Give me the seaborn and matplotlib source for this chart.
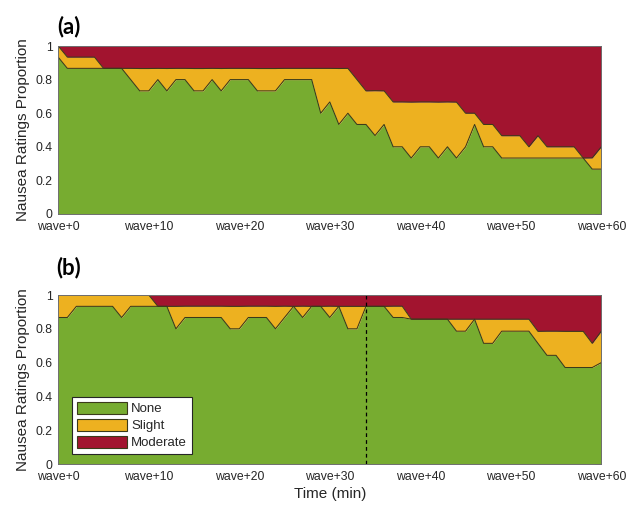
import matplotlib
matplotlib.use("Agg")
import matplotlib.pyplot as plt
from matplotlib.patches import Patch
import numpy as np
import pandas as pd
import seaborn as sns

# Time axis (minutes after the wave onset) and tick labels
minutes = list(range(0, 61))
tick_minutes = [0, 10, 20, 30, 40, 50, 60]
tick_labels = ["wave+0", "wave+10", "wave+20", "wave+30", "wave+40", "wave+50", "wave+60"]
y_ticks = [0, 0.2, 0.4, 0.6, 0.8, 1.0]
y_tick_labels = ["0", "0.2", "0.4", "0.6", "0.8", "1"]

categories = ["None", "Slight", "Moderate"]
colors = ["#77AC30", "#EDB120", "#A2142F"]

# Panel (a): proportion of participants per rating, one value per minute
none_a = [0.933, 0.867, 0.867, 0.867, 0.867, 0.867, 0.867, 0.867, 0.800, 0.733,
          0.733, 0.800, 0.733, 0.800, 0.800, 0.733, 0.733, 0.800, 0.733, 0.800,
          0.800, 0.800, 0.733, 0.733, 0.733, 0.800, 0.800, 0.800, 0.800, 0.600,
          0.667, 0.533, 0.600, 0.533, 0.533, 0.467, 0.533, 0.400, 0.400, 0.333,
          0.400, 0.400, 0.333, 0.400, 0.333, 0.400, 0.533, 0.400, 0.400, 0.333,
          0.333, 0.333, 0.333, 0.333, 0.333, 0.333, 0.333, 0.333, 0.333, 0.267,
          0.267]
slight_a = [0.067, 0.067, 0.067, 0.067, 0.067, 0.000, 0.000, 0.000, 0.067, 0.133,
            0.133, 0.067, 0.133, 0.067, 0.067, 0.133, 0.133, 0.067, 0.133, 0.067,
            0.067, 0.067, 0.133, 0.133, 0.133, 0.067, 0.067, 0.067, 0.067, 0.267,
            0.200, 0.333, 0.267, 0.267, 0.200, 0.267, 0.200, 0.267, 0.267, 0.333,
            0.267, 0.267, 0.333, 0.267, 0.333, 0.200, 0.067, 0.133, 0.133, 0.133,
            0.133, 0.133, 0.067, 0.133, 0.067, 0.067, 0.067, 0.067, 0.000, 0.067,
            0.133]
moderate_a = [0.000, 0.067, 0.067, 0.067, 0.067, 0.133, 0.133, 0.133, 0.133, 0.133,
              0.133, 0.133, 0.133, 0.133, 0.133, 0.133, 0.133, 0.133, 0.133, 0.133,
              0.133, 0.133, 0.133, 0.133, 0.133, 0.133, 0.133, 0.133, 0.133, 0.133,
              0.133, 0.133, 0.133, 0.200, 0.267, 0.267, 0.267, 0.333, 0.333, 0.333,
              0.333, 0.333, 0.333, 0.333, 0.333, 0.400, 0.400, 0.467, 0.467, 0.533,
              0.533, 0.533, 0.600, 0.533, 0.600, 0.600, 0.600, 0.600, 0.667, 0.667,
              0.600]

# Panel (b)
none_b = [0.867, 0.867, 0.933, 0.933, 0.933, 0.933, 0.933, 0.867, 0.933, 0.933,
          0.933, 0.933, 0.933, 0.800, 0.867, 0.867, 0.867, 0.867, 0.867, 0.800,
          0.800, 0.867, 0.867, 0.867, 0.800, 0.867, 0.933, 0.867, 0.933, 0.933,
          0.867, 0.933, 0.800, 0.800, 0.933, 0.933, 0.933, 0.867, 0.867, 0.857,
          0.857, 0.857, 0.857, 0.857, 0.786, 0.786, 0.857, 0.714, 0.714, 0.786,
          0.786, 0.786, 0.786, 0.714, 0.643, 0.643, 0.571, 0.571, 0.571, 0.571,
          0.600]
slight_b = [0.133, 0.133, 0.067, 0.067, 0.067, 0.067, 0.067, 0.133, 0.067, 0.067,
            0.067, 0.000, 0.000, 0.133, 0.067, 0.067, 0.067, 0.067, 0.067, 0.133,
            0.133, 0.067, 0.067, 0.067, 0.133, 0.067, 0.000, 0.067, 0.000, 0.000,
            0.067, 0.000, 0.133, 0.133, 0.000, 0.000, 0.000, 0.067, 0.067, 0.000,
            0.000, 0.000, 0.000, 0.000, 0.071, 0.071, 0.000, 0.143, 0.143, 0.071,
            0.071, 0.071, 0.071, 0.071, 0.143, 0.143, 0.214, 0.214, 0.214, 0.143,
            0.186]
moderate_b = [0.000, 0.000, 0.000, 0.000, 0.000, 0.000, 0.000, 0.000, 0.000, 0.000,
              0.000, 0.067, 0.067, 0.067, 0.067, 0.067, 0.067, 0.067, 0.067, 0.067,
              0.067, 0.067, 0.067, 0.067, 0.067, 0.067, 0.067, 0.067, 0.067, 0.067,
              0.067, 0.067, 0.067, 0.067, 0.067, 0.067, 0.067, 0.067, 0.067, 0.143,
              0.143, 0.143, 0.143, 0.143, 0.143, 0.143, 0.143, 0.143, 0.143, 0.143,
              0.143, 0.143, 0.143, 0.214, 0.214, 0.214, 0.214, 0.214, 0.214, 0.286,
              0.214]
marker_minute_b = 34

sns.set_theme(style="white")
plt.rcParams["font.family"] = ["Liberation Sans", "DejaVu Sans"]

EDGE = "#3b3a1a"
AXIS = "#262626"

fig = plt.figure(figsize=(6.44, 5.09), dpi=100)
ax_a = fig.add_axes([0.0905, 0.5796, 0.8432, 0.3300])
ax_b = fig.add_axes([0.0905, 0.0884, 0.8432, 0.3320])


def draw_panel(ax, none, slight, moderate):
    df = pd.DataFrame({"minute": minutes, "None": none,
                       "Slight": slight, "Moderate": moderate})
    layers = [df[c].to_numpy() for c in categories]
    ax.stackplot(df["minute"], *layers, colors=colors, linewidth=0)
    # layer boundaries
    cum = np.cumsum(layers, axis=0)
    for k in range(2):
        bdf = pd.DataFrame({"minute": df["minute"], "level": cum[k]})
        sns.lineplot(data=bdf, x="minute", y="level", color=EDGE,
                     linewidth=0.75, ax=ax, legend=False)
    ax.set_xlim(0, 60)
    ax.set_ylim(0, 1)
    ax.set_xticks(tick_minutes)
    ax.set_xticklabels(tick_labels)
    ax.set_yticks(y_ticks)
    ax.set_yticklabels(y_tick_labels)
    ax.tick_params(direction="in", length=4, width=0.6, top=True, right=True,
                   labelsize=8.8, colors=AXIS, pad=4)
    ax.tick_params(axis="x", pad=5)
    for side in ["left", "right", "top", "bottom"]:
        ax.spines[side].set_visible(True)
        ax.spines[side].set_color("#6e6e6e")
        ax.spines[side].set_linewidth(0.7)
    ax.set_xlabel("")
    ax.set_ylabel("Nausea Ratings Proportion", fontsize=11, color=AXIS)
    ax.yaxis.set_label_coords(-0.052, 0.5)


draw_panel(ax_a, none_a, slight_a, moderate_a)
draw_panel(ax_b, none_b, slight_b, moderate_b)

ax_b.axvline(marker_minute_b, color="black", linestyle=(0, (3, 2.5)), linewidth=0.9)
ax_b.set_xlabel("Time (min)", fontsize=11, color=AXIS, labelpad=3)

handles = [Patch(facecolor=c, edgecolor=EDGE, linewidth=0.8, label=l)
           for c, l in zip(colors, categories)]
leg = ax_b.legend(handles=handles, loc="lower left",
                  bbox_to_anchor=(0.026, 0.06), borderaxespad=0,
                  fontsize=9.5, frameon=True, fancybox=False,
                  handlelength=3.8, handleheight=1.05, handletextpad=0.3,
                  labelspacing=0.25, borderpad=0.35)
leg.get_frame().set_edgecolor("#262626")
leg.get_frame().set_linewidth(0.8)
leg.get_frame().set_facecolor("white")
leg.get_frame().set_alpha(1)

fig.text(69 / 644, 1 - 27 / 509, "(a)", fontsize=16, fontweight="bold",
         family=["Lato", "DejaVu Sans"], ha="center", va="center", color="black")
fig.text(69 / 644, 1 - 268 / 509, "(b)", fontsize=16, fontweight="bold",
         family=["Lato", "DejaVu Sans"], ha="center", va="center", color="black")

fig.savefig("out.png", dpi=100)
